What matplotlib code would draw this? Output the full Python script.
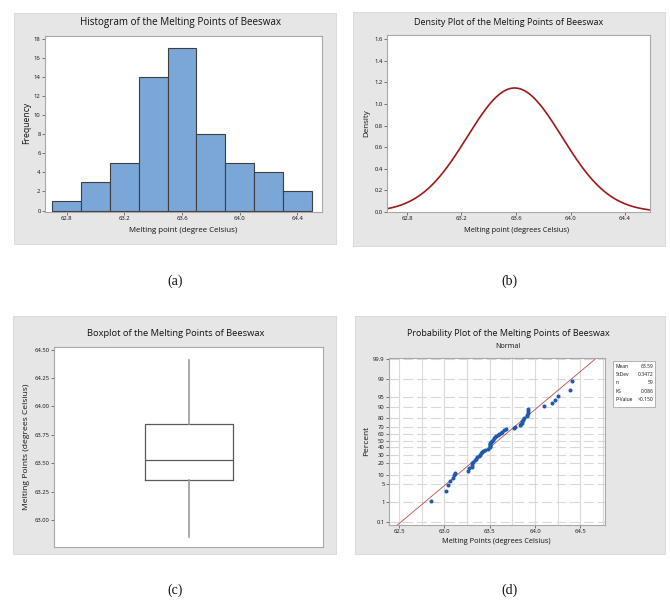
import numpy as np
import matplotlib
matplotlib.use("Agg")
import matplotlib.pyplot as plt
from matplotlib.patches import Rectangle
from statistics import NormalDist

# ---------------------------------------------------------------- data
bin_edges = [62.7, 62.9, 63.1, 63.3, 63.5, 63.7, 63.9, 64.1, 64.3, 64.5]
frequencies = [1, 3, 5, 14, 17, 8, 5, 4, 2]

# sorted melting points of the beeswax samples (degrees Celsius)
melting_points = [
    62.85, 63.02, 63.04, 63.06, 63.10, 63.11, 63.12, 63.26, 63.27, 63.30,
    63.30, 63.31, 63.32, 63.34, 63.35, 63.36, 63.38, 63.39, 63.40, 63.42,
    63.43, 63.45, 63.48, 63.50, 63.50, 63.50, 63.50, 63.50, 63.51, 63.53,
    63.54, 63.55, 63.56, 63.57, 63.59, 63.60, 63.62, 63.64, 63.66, 63.68,
    63.77, 63.78, 63.83, 63.84, 63.85, 63.86, 63.87, 63.88, 63.91, 63.91,
    63.92, 63.92, 63.92, 64.10, 64.19, 64.22, 64.25, 64.38, 64.41,
]

fit_mean = 63.59
fit_stdev = 0.3472
sample_n = 59
ks_stat = 0.086
p_value_text = ">0.150"

hist_xticks = [62.8, 63.2, 63.6, 64.0, 64.4]
hist_yticks = [0, 2, 4, 6, 8, 10, 12, 14, 16, 18]
dens_yticks = [0.0, 0.2, 0.4, 0.6, 0.8, 1.0, 1.2, 1.4, 1.6]
box_yticks = [63.00, 63.25, 63.50, 63.75, 64.00, 64.25, 64.50]
prob_xticks = [62.5, 63.0, 63.5, 64.0, 64.5]
prob_yticks = [0.1, 1, 5, 10, 20, 30, 40, 50, 60, 70, 80, 90, 95, 99, 99.9]

# ---------------------------------------------------------------- style
W, H, DPI = 670, 604, 100
SANS = ["Open Sans", "DejaVu Sans"]
plt.rcParams["font.family"] = SANS
plt.rcParams["lines.scale_dashes"] = False
TXT = "#111111"
PANEL = "#e6e6e6"
SPINE = "#a8a8a8"
TICKFS = 4.2

fig = plt.figure(figsize=(W / DPI, H / DPI), dpi=DPI, facecolor="white")
renderer = fig.canvas.get_renderer()


def fx(px):
    return px / W


def fy(py):
    return 1 - py / H


def panel(l, t, r, b):
    fig.patches.append(Rectangle((fx(l), fy(b)), (r - l) / W, (b - t) / H,
                                 transform=fig.transFigure, facecolor=PANEL,
                                 edgecolor="#d6d6d6", linewidth=0.6,
                                 zorder=-5))


def axes_at(l, t, r, b):
    ax = fig.add_axes([fx(l), fy(b), (r - l) / W, (b - t) / H])
    ax.set_facecolor("white")
    for s in ax.spines.values():
        s.set_color(SPINE)
        s.set_linewidth(0.8)
    ax.tick_params(length=2, width=0.6, color="#606060", labelsize=TICKFS,
                   labelcolor=TXT, pad=1.2)
    return ax


def fit_text(x, y, s, width, rotation=0, **kw):
    t = fig.text(fx(x), fy(y), s, ha="center", va="center",
                 rotation=rotation, fontsize=10, color=TXT, **kw)
    bb = t.get_window_extent(renderer)
    cur = bb.width if rotation == 0 else bb.height
    t.set_fontsize(10 * width / cur)
    return t


# ---------------------------------------------------------------- panels
panel(14, 13, 336, 244)
panel(353, 12, 665, 246)
panel(13, 316, 336, 554)
panel(355, 316, 665, 554)

# (a) histogram
ax = axes_at(45, 36, 322, 212)
lefts = np.array(bin_edges[:-1])
widths = np.diff(bin_edges)
ax.bar(lefts, frequencies, width=widths, align="edge", color="#7ba6d8",
       edgecolor="#3f3f3f", linewidth=0.8, zorder=2)
ax.set_xlim(62.65, 64.57)
ax.set_ylim(-0.15, 18.3)
ax.set_xticks(hist_xticks)
ax.set_xticklabels([f"{v:.1f}" for v in hist_xticks])
ax.set_yticks(hist_yticks)
fit_text(180, 23, "Histogram of the Melting Points of Beeswax", 200)
fit_text(183, 230.5, "Melting point (degree Celsius)", 108)
fit_text(27, 123, "Frequency", 42, rotation=90)

# (b) normal density curve
ax = axes_at(387, 35, 650, 212)
xlo, xhi = 62.654, 64.583
xs = np.linspace(xlo, xhi, 400)
nd = NormalDist(fit_mean, fit_stdev)
ax.plot(xs, [nd.pdf(v) for v in xs], color="#9e1a1a", linewidth=1.2)
ax.set_xlim(xlo, xhi)
ax.set_ylim(0, 1.64)
ax.set_xticks(hist_xticks)
ax.set_xticklabels([f"{v:.1f}" for v in hist_xticks])
ax.set_yticks(dens_yticks)
ax.set_yticklabels([f"{v:.1f}" for v in dens_yticks])
fit_text(509, 22.7, "Density Plot of the Melting Points of Beeswax", 188)
fit_text(517, 230.5, "Melting point (degrees Celsius)", 106)
fit_text(367, 123, "Density", 28, rotation=90)

# (c) boxplot
ax = axes_at(54, 347, 323, 547)
mp = np.array(melting_points)
q1, med, q3 = np.percentile(mp, [25, 50, 75], method="weibull")
stats = [dict(med=med, q1=q1, q3=q3, whislo=mp.min(), whishi=mp.max(),
              fliers=[])]
ax.bxp(stats, positions=[0.502], widths=0.33, showfliers=False,
       showcaps=False,
       boxprops=dict(color="#5a5a5a", linewidth=0.9),
       medianprops=dict(color="#5a5a5a", linewidth=0.9),
       whiskerprops=dict(color="#9c9c9c", linewidth=1.2))
ax.set_xlim(0, 1)
ax.set_ylim(62.765, 64.523)
ax.set_xticks([])
ax.set_yticks(box_yticks)
ax.set_yticklabels([f"{v:.2f}" for v in box_yticks])
fit_text(176, 333, "Boxplot of the Melting Points of Beeswax", 178)
fit_text(27, 447, "Melting Points (degrees Celsius)", 125, rotation=90)

# (d) normal probability plot (percent axis drawn on the normal quantile scale)
std = NormalDist()
ax = axes_at(389, 358, 605, 525)
n = len(melting_points)
z_pts = [std.inv_cdf((i + 1 - 0.3) / (n + 0.4)) for i in range(n)]
zlo, zhi = -3.19, 3.128
pxlo, pxhi = 62.39, 64.77
ytick_z = [std.inv_cdf(p / 100) for p in prob_yticks]
for zt in ytick_z:
    ax.axhline(zt, color="#d8d8d8", linewidth=0.8, linestyle=(0, (7, 3)),
               zorder=1)
for xv in np.arange(62.5, 64.76, 0.25):
    ax.axvline(xv, color="#dadada", linewidth=0.8, zorder=1)
zline = np.array([zlo, zhi])
ax.plot(fit_mean + fit_stdev * zline, zline, color="#bf4a48",
        linewidth=0.6, zorder=2)
ax.plot(melting_points, z_pts, linestyle="none", marker="o", markersize=2.9,
        color="#1f5aae", markeredgewidth=0, zorder=3)
ax.set_xlim(pxlo, pxhi)
ax.set_ylim(zlo, zhi)
ax.set_xticks(prob_xticks)
ax.set_xticklabels([f"{v:.1f}" for v in prob_xticks])
ax.set_yticks(ytick_z)
ax.set_yticklabels([f"{p:g}" for p in prob_yticks])
fit_text(508, 333, "Probability Plot of the Melting Points of Beeswax", 202)
fit_text(508, 346, "Normal", 25)
fit_text(496, 541.5, "Melting Points (degrees Celsius)", 108)
fit_text(367, 441, "Percent", 30, rotation=90)

# summary box beside the probability plot
fig.patches.append(Rectangle((fx(613), fy(407)), 42 / W, 46 / H,
                             transform=fig.transFigure, facecolor="white",
                             edgecolor="#a8a8a8", linewidth=0.6, zorder=1))
rows = [("Mean", f"{fit_mean:.2f}"), ("StDev", f"{fit_stdev:.4f}"),
        ("n", f"{sample_n}"), ("KS", f"{ks_stat:.3f}"),
        ("P-Value", p_value_text)]
for (lab, val), yy in zip(rows, [366.5, 374.8, 383, 391.3, 399.6]):
    fig.text(fx(615.5), fy(yy), lab, ha="left", va="center", fontsize=3.6,
             color=TXT)
    fig.text(fx(653.5), fy(yy), val, ha="right", va="center", fontsize=3.6,
             color=TXT)

# panel captions
for lab, (x, y) in zip(["(a)", "(b)", "(c)", "(d)"],
                       [(175.5, 281), (509, 281), (175.5, 590), (509, 590)]):
    fig.text(fx(x), fy(y), lab, ha="center", va="center", fontsize=10,
             family=["Liberation Serif", "DejaVu Serif"], color="#111111")

fig.savefig("out.png", dpi=DPI, facecolor="white")
